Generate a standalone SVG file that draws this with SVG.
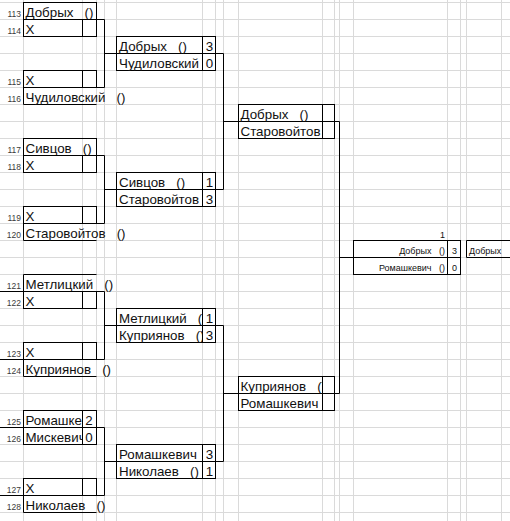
<svg xmlns="http://www.w3.org/2000/svg" width="510" height="521" viewBox="0 0 510 521">
<style>
.grid{fill:none;stroke:#dadada;stroke-width:1}
.b{fill:none;stroke:#000;stroke-width:1}
.c{fill:none;stroke:#000;stroke-width:1}
text{font-family:"Liberation Sans",Arial,sans-serif;white-space:pre}
.t{font-size:13.33px;fill:#111}
.m{text-anchor:middle}
.n{font-size:8.5px;fill:#3a3a3a;text-anchor:end}
.s{font-size:9px;fill:#111}
.e{text-anchor:end}
</style>
<defs>
<clipPath id="cB"><rect x="23" y="400" width="59.5" height="50"/></clipPath>
<clipPath id="cF"><rect x="116" y="300" width="86.5" height="50"/></clipPath>
<clipPath id="cJ"><rect x="238" y="370" width="84.5" height="30"/></clipPath>
</defs>
<rect width="510" height="521" fill="#fff"/>
<path class="grid" d="M0,2.5H510M0,19.5H510M0,36.5H510M0,53.5H510M0,70.5H510M0,87.5H510M0,104.5H510M0,121.5H510M0,138.5H510M0,155.5H510M0,172.5H510M0,189.5H510M0,206.5H510M0,223.5H510M0,240.5H510M0,257.5H510M0,274.5H510M0,291.5H510M0,308.5H510M0,325.5H510M0,342.5H510M0,359.5H510M0,376.5H510M0,393.5H510M0,410.5H510M0,427.5H510M0,444.5H510M0,461.5H510M0,478.5H510M0,495.5H510M0,512.5H510M23.5,0V521M82.5,0V521M96.5,0V521M104.5,0V521M116.5,0V521M202.5,0V521M215.5,0V521M223.5,0V521M238.5,0V521M322.5,0V521M334.5,0V521M339.5,0V521M353.5,0V521M447.5,0V521M460.5,0V521M466.5,0V521M501.5,0V521"/>
<g id="rownums">
<text class="n" x="21" y="16.5">113</text>
<text class="n" x="21" y="33.5">114</text>
<text class="n" x="21" y="84.5">115</text>
<text class="n" x="21" y="101.5">116</text>
<text class="n" x="21" y="152.5">117</text>
<text class="n" x="21" y="169.5">118</text>
<text class="n" x="21" y="220.5">119</text>
<text class="n" x="21" y="237.5">120</text>
<text class="n" x="21" y="288.5">121</text>
<text class="n" x="21" y="305.5">122</text>
<text class="n" x="21" y="356.5">123</text>
<text class="n" x="21" y="373.5">124</text>
<text class="n" x="21" y="424.5">125</text>
<text class="n" x="21" y="441.5">126</text>
<text class="n" x="21" y="492.5">127</text>
<text class="n" x="21" y="509.5">128</text>
</g>
<g id="connectors">
<path class="c" d="M96.5,19.5H104.5V87.5H96.5M104.5,53.5H116.5"/>
<path class="c" d="M96.5,155.5H104.5V223.5H96.5M104.5,189.5H116.5"/>
<path class="c" d="M96.5,291.5H104.5V359.5H96.5M104.5,325.5H116.5"/>
<path class="c" d="M96.5,427.5H104.5V495.5H96.5M104.5,461.5H116.5"/>
<path class="c" d="M215.5,53.5H223.5V189.5H215.5M223.5,121.5H238.5"/>
<path class="c" d="M215.5,325.5H223.5V461.5H215.5M223.5,393.5H238.5"/>
<path class="c" d="M334.5,121.5H339.5V393.5H334.5M339.5,257.5H353.5"/>
<path class="c" d="M0,291.5H23.5M0,359.5H23.5M0,427.5H23.5M0,495.5H23.5"/>
</g>
<g id="e113"><rect class="b" x="23.5" y="2.5" width="73" height="17"/><text class="t" x="25.5" y="16.5">Добрых   ()</text></g>
<g id="e114"><rect class="b" x="23.5" y="19.5" width="73" height="17"/><path class="b" d="M82.5,19.5V36.5"/><text class="t" x="25.5" y="33.5">X</text></g>
<g id="e115"><rect class="b" x="23.5" y="70.5" width="73" height="17"/><path class="b" d="M82.5,70.5V87.5"/><text class="t" x="25.5" y="84.5">X</text></g>
<g id="e116"><path class="b" d="M96.5,87.5H23.5V104.5H96.5"/><text class="t" x="25.5" y="101.5">Чудиловский   ()</text></g>
<g id="e117"><rect class="b" x="23.5" y="138.5" width="73" height="17"/><text class="t" x="25.5" y="152.5">Сивцов   ()</text></g>
<g id="e118"><rect class="b" x="23.5" y="155.5" width="73" height="17"/><path class="b" d="M82.5,155.5V172.5"/><text class="t" x="25.5" y="169.5">X</text></g>
<g id="e119"><rect class="b" x="23.5" y="206.5" width="73" height="17"/><path class="b" d="M82.5,206.5V223.5"/><text class="t" x="25.5" y="220.5">X</text></g>
<g id="e120"><path class="b" d="M96.5,223.5H23.5V240.5H96.5"/><text class="t" x="25.5" y="237.5">Старовойтов   ()</text></g>
<g id="e121"><path class="b" d="M96.5,274.5H23.5V291.5H96.5"/><text class="t" x="25.5" y="288.5">Метлицкий   ()</text></g>
<g id="e122"><rect class="b" x="23.5" y="291.5" width="73" height="17"/><path class="b" d="M82.5,291.5V308.5"/><text class="t" x="25.5" y="305.5">X</text></g>
<g id="e123"><rect class="b" x="23.5" y="342.5" width="73" height="17"/><path class="b" d="M82.5,342.5V359.5"/><text class="t" x="25.5" y="356.5">X</text></g>
<g id="e124"><path class="b" d="M96.5,359.5H23.5V376.5H96.5"/><text class="t" x="25.5" y="373.5">Куприянов   ()</text></g>
<g id="e125"><rect class="b" x="23.5" y="410.5" width="73" height="17"/><path class="b" d="M82.5,410.5V427.5"/><text class="t" x="25.5" y="424.5">Ромашке</text><text class="t m" x="89" y="424.5">2</text></g>
<g id="e126"><rect class="b" x="23.5" y="427.5" width="73" height="17"/><path class="b" d="M82.5,427.5V444.5"/><text class="t" x="25.5" y="441.5" clip-path="url(#cB)">Мискевич</text><text class="t m" x="89" y="441.5">0</text></g>
<g id="e127"><rect class="b" x="23.5" y="478.5" width="73" height="17"/><path class="b" d="M82.5,478.5V495.5"/><text class="t" x="25.5" y="492.5">X</text></g>
<g id="e128"><path class="b" d="M96.5,495.5H23.5V512.5H96.5"/><text class="t" x="25.5" y="509.5">Николаев   ()</text></g>
<g id="m1"><rect class="b" x="116.5" y="36.5" width="99" height="34"/><path class="b" d="M116.5,53.5H215.5M202.5,36.5V70.5"/><text class="t" x="119" y="50.5">Добрых   ()</text><text class="t m" x="209.5" y="50.5">3</text><text class="t" x="119" y="67.5">Чудиловский</text><text class="t m" x="209.5" y="67.5">0</text></g>
<g id="m2"><rect class="b" x="116.5" y="172.5" width="99" height="34"/><path class="b" d="M116.5,189.5H215.5M202.5,172.5V206.5"/><text class="t" x="119" y="186.5">Сивцов   ()</text><text class="t m" x="209.5" y="186.5">1</text><text class="t" x="119" y="203.5">Старовойтов</text><text class="t m" x="209.5" y="203.5">3</text></g>
<g id="m3"><rect class="b" x="116.5" y="308.5" width="99" height="34"/><path class="b" d="M116.5,325.5H215.5M202.5,308.5V342.5"/><text class="t" x="119" y="322.5" clip-path="url(#cF)">Метлицкий   ()</text><text class="t m" x="209.5" y="322.5">1</text><text class="t" x="119" y="339.5" clip-path="url(#cF)">Куприянов   ()</text><text class="t m" x="209.5" y="339.5">3</text></g>
<g id="m4"><rect class="b" x="116.5" y="444.5" width="99" height="34"/><path class="b" d="M116.5,461.5H215.5M202.5,444.5V478.5"/><text class="t" x="119" y="458.5">Ромашкевич</text><text class="t m" x="209.5" y="458.5">3</text><text class="t" x="119" y="475.5">Николаев   ()</text><text class="t m" x="209.5" y="475.5">1</text></g>
<g id="s1"><rect class="b" x="238.5" y="104.5" width="96" height="34"/><path class="b" d="M238.5,121.5H334.5M322.5,104.5V138.5"/><text class="t" x="240.5" y="118.5">Добрых   ()</text><text class="t" x="240.5" y="135.5">Старовойтов</text></g>
<g id="s2"><rect class="b" x="238.5" y="376.5" width="96" height="34"/><path class="b" d="M238.5,393.5H334.5M322.5,376.5V410.5"/><text class="t" x="240.5" y="390.5" clip-path="url(#cJ)">Куприянов   ()</text><text class="t" x="240.5" y="407.5">Ромашкевич</text></g>
<g id="final"><text class="s e" x="445" y="237.5">1</text><rect class="b" x="353.5" y="240.5" width="107" height="34"/><path class="b" d="M353.5,257.5H460.5M447.5,240.5V274.5"/><text class="s e" x="445" y="253.5">Добрых   ()</text><text class="s m" x="454.5" y="253.5">3</text><text class="s e" x="445" y="270.5">Ромашкевич   ()</text><text class="s m" x="454.5" y="270.5">0</text></g>
<g id="winner"><path class="b" d="M511,240.5H466.5V257.5H511"/><text class="s" x="469" y="253.5">Добрых</text></g>
</svg>
